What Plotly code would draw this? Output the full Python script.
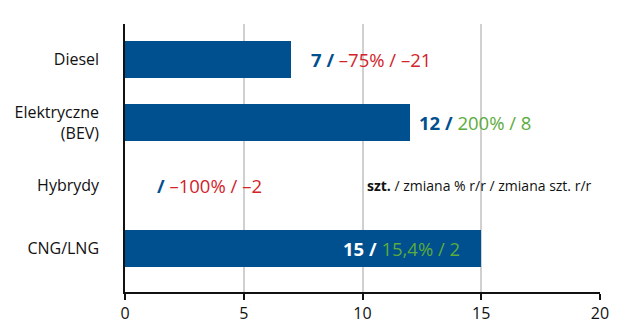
import plotly.graph_objects as go

# Registrations by drive type: units, % change y/y, unit change y/y
categories = ["Diesel", "Elektryczne<br>(BEV)", "Hybrydy", "CNG/LNG"]
units = [7, 12, 0, 15]
pct_change = ["–75%", "200%", "–100%", "15,4%"]
unit_change = ["–21", "8", "–2", "2"]
x_ticks = [0, 5, 10, 15, 20]

BLUE = "#004f8f"
RED = "#d2232a"
GREEN = "#5bab3d"
FONT = "Open Sans"

fig = go.Figure()
fig.add_trace(go.Bar(
    x=units, y=categories, orientation="h",
    marker=dict(color=BLUE, line=dict(width=0)),
    width=0.59, hoverinfo="skip",
))

# value labels: bold unit count, then coloured change figures
label_style = [
    # (shift in px from bar end, anchor, count colour, change colour)
    (18, "left", BLUE, RED),
    (7, "left", BLUE, GREEN),
    (30, "left", BLUE, RED),
    (-19, "right", "white", GREEN),
]
for cat, u, p, d, (shift, anchor, ccol, chcol) in zip(categories, units, pct_change, unit_change, label_style):
    count = "" if u == 0 else f"{u} "
    text = (f"<b><span style='color:{ccol}'>{count}/</span></b>"
            f"<span style='color:{chcol}'> {p} / {d}</span>")
    fig.add_annotation(
        x=u, y=cat, xref="x", yref="y", text=text, showarrow=False,
        xanchor=anchor, xshift=shift, font=dict(family=FONT, size=18.5),
    )

# key to the label format
fig.add_annotation(
    x=19.75, y="Hybrydy", xref="x", yref="y",
    text="<b>szt.</b> / zmiana % r/r / zmiana szt. r/r",
    showarrow=False, xanchor="right", font=dict(family=FONT, size=14, color="#111111"),
)

fig.update_xaxes(
    range=[0, 20], tickvals=x_ticks, ticktext=[str(t) for t in x_ticks],
    showgrid=True, gridcolor="#d0d0d0", gridwidth=1.5,
    showline=True, linecolor="#111111", linewidth=1.5,
    ticks="outside", ticklen=6, tickcolor="#111111", tickwidth=1.5,
    tickfont=dict(family=FONT, size=16, color="#111111"),
    zeroline=False, fixedrange=True,
)
fig.update_yaxes(
    type="category", categoryorder="array", categoryarray=categories,
    range=[3.69, -0.57], showgrid=False,
    showline=True, linecolor="#111111", linewidth=1.5,
    ticks="", ticklabelstandoff=21,
    tickfont=dict(family=FONT, size=16, color="#111111"),
    fixedrange=True,
)
fig.update_layout(
    width=638, height=336,
    margin=dict(l=125, r=38, t=24, b=38),
    plot_bgcolor="white", paper_bgcolor="white",
    showlegend=False, bargap=0,
)

fig.write_html("out.html", config={"displayModeBar": False})
